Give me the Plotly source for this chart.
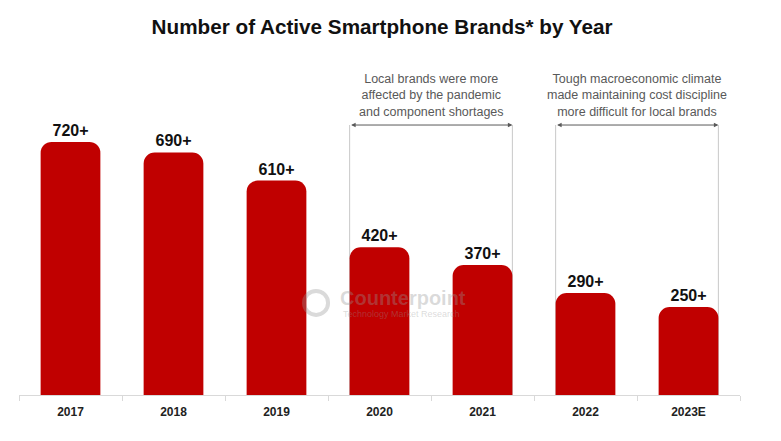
import plotly.graph_objects as go

years = ["2017", "2018", "2019", "2020", "2021", "2022", "2023E"]
brands = [720, 690, 610, 420, 370, 290, 250]
labels = ["720+", "690+", "610+", "420+", "370+", "290+", "250+"]

note1 = "Local brands were more<br>affected by the pandemic<br>and component shortages"
note2 = "Tough macroeconomic climate<br>made maintaining cost discipline<br>more difficult for local brands"

RED = "#c00000"
BW = 0.58
FONT = "Liberation Sans, Arial"

fig = go.Figure()
fig.add_trace(go.Bar(
    x=years, y=brands, width=BW,
    marker=dict(color=RED, line=dict(width=0)),
    text=["<b>%s</b>" % t for t in labels],
    textposition="outside",
    textfont=dict(size=16, color="#111111", family=FONT),
    cliponaxis=False,
    hoverinfo="skip",
))

shapes = []
annotations = []
yb = 768
for (i0, i1, note) in [(3, 4, note1), (5, 6, note2)]:
    xl = i0 - BW / 2
    xr = i1 + BW / 2
    for xv in (xl, xr):
        shapes.append(dict(type="line", xref="x", yref="y", x0=xv, x1=xv, y0=0, y1=yb,
                           line=dict(color="#c8c8c8", width=1), layer="below"))
    annotations.append(dict(x=xr, y=yb, ax=xl, ay=yb, xref="x", yref="y", axref="x", ayref="y",
                            text="", showarrow=True, arrowside="end+start", arrowhead=2,
                            arrowsize=0.9, arrowwidth=1, arrowcolor="#595959"))
    annotations.append(dict(x=(xl + xr) / 2, y=yb + 11, xref="x", yref="y", text=note,
                            showarrow=False, yanchor="bottom", xanchor="center",
                            font=dict(size=12.5, color="#595959", family=FONT)))

# watermark
WM = "rgba(150,150,150,0.35)"
annotations.append(dict(x=0.532, y=0.251, xref="paper", yref="paper", text="<b>Counterpoint</b>",
                        showarrow=False, font=dict(size=20, color=WM, family=FONT)))
annotations.append(dict(x=0.53, y=0.222, xref="paper", yref="paper", text="Technology Market Research",
                        showarrow=False, font=dict(size=9, color=WM, family=FONT)))
shapes.append(dict(type="circle", xref="paper", yref="paper", xsizemode="pixel", ysizemode="pixel",
                   xanchor=0.412, yanchor=0.275, x0=-12, x1=12, y0=-12, y1=12,
                   line=dict(color=WM, width=4), layer="above"))

fig.update_layout(
    width=781, height=441,
    margin=dict(l=11, r=49, t=52, b=54),
    paper_bgcolor="white", plot_bgcolor="white",
    title=dict(text="<b>Number of Active Smartphone Brands* by Year</b>", x=0.479, xanchor="center",
               y=0.957, yanchor="middle",
               font=dict(size=20.7, color="#111111", family=FONT)),
    showlegend=False,
    barcornerradius=11,
    xaxis=dict(type="category", showline=True, linecolor="#d9d9d9", linewidth=1,
               ticks="outside", tickson="boundaries", tickcolor="#d9d9d9", ticklen=5,
               ticklabelstandoff=6,
               tickfont=dict(size=12, color="#222222", family=FONT),
               tickprefix="<b>", ticksuffix="</b>", showgrid=False, zeroline=False),
    yaxis=dict(range=[0, 953], visible=False, showgrid=False, zeroline=False),
    shapes=shapes,
    annotations=annotations,
)

fig.write_html("out.html")
